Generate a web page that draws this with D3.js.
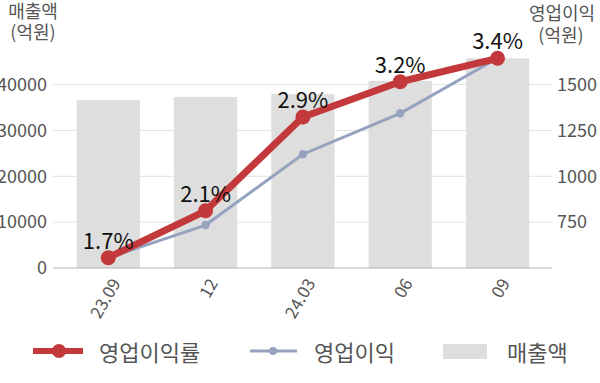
<!DOCTYPE html>
<html><head><meta charset="utf-8">
<script src="https://cdn.jsdelivr.net/npm/d3@7"></script>
<style>
html,body{margin:0;padding:0;background:#fff;}
svg{display:block;font-family:"Noto Sans CJK KR","Noto Sans",sans-serif;}
</style></head>
<body><svg id="c" width="600" height="383"></svg>
<script>
const categories = ["23.09", "12", "24.03", "06", "09"];
const sales = [36600, 37300, 37900, 40800, 45700];          // 매출액 (억원)
const operatingProfit = [556, 734, 1120, 1343, 1643];        // 영업이익 (억원)
const marginPct = [1.7, 2.1, 2.9, 3.2, 3.4];                 // 영업이익률 (%)
const leftTicks = [0, 10000, 20000, 30000, 40000];
const rightTicks = [750, 1000, 1250, 1500];
const seriesNames = ["영업이익률", "영업이익", "매출액"];

const svg = d3.select("#c");
const x = d3.scaleBand().domain(categories).range([59.6, 546.2]).paddingInner(0.35).paddingOuter(0.175);
const yL = d3.scaleLinear().domain([0, 40000]).range([268, 84.5]);
const yR = d3.scaleLinear().domain([500, 1500]).range([268, 84.5]);
const yP = d3.scaleLinear().domain([1.7, 3.4]).range([257.7, 58.3]);

const red = "#c3393b", blue = "#95a3bf", barC = "#dedede", grid = "#e2e2e2", tickC = "#555";

// gridlines
svg.append("g").selectAll("line").data(leftTicks.slice(1)).join("line")
  .attr("x1", 53).attr("x2", 552).attr("y1", d => yL(d)).attr("y2", d => yL(d))
  .attr("stroke", grid).attr("stroke-width", 1);

// bars
svg.append("g").selectAll("rect").data(sales).join("rect")
  .attr("x", (d, i) => x(categories[i])).attr("width", x.bandwidth())
  .attr("y", d => yL(d)).attr("height", d => yL(0) - yL(d)).attr("fill", barC);

// baseline
svg.append("line").attr("x1", 53).attr("x2", 552).attr("y1", yL(0)).attr("y2", yL(0))
  .attr("stroke", "#b4b4b4").attr("stroke-width", 1.2);

// left ticks
svg.append("g").selectAll("text").data(leftTicks).join("text")
  .attr("x", 47).attr("y", d => yL(d)).attr("dy", "0.35em").attr("text-anchor", "end")
  .attr("font-size", 18).attr("fill", tickC).text(d => d);
// right ticks
svg.append("g").selectAll("text").data(rightTicks).join("text")
  .attr("x", 557).attr("y", d => yR(d)).attr("dy", "0.35em").attr("text-anchor", "start")
  .attr("font-size", 18).attr("fill", tickC).text(d => d);

// axis titles
const lt = svg.append("text").attr("text-anchor", "middle").attr("font-size", 18).attr("fill", tickC);
lt.append("tspan").attr("x", 33).attr("y", 18).text("매출액");
lt.append("tspan").attr("x", 33).attr("y", 39).text("(억원)");
const rt = svg.append("text").attr("text-anchor", "middle").attr("font-size", 18).attr("fill", tickC);
rt.append("tspan").attr("x", 562).attr("y", 20).text("영업이익");
rt.append("tspan").attr("x", 561).attr("y", 42).text("(억원)");

// x labels
svg.append("g").selectAll("text").data(categories).join("text")
  .attr("text-anchor", "end").attr("font-size", 17).attr("fill", tickC)
  .attr("transform", d => `translate(${x(d) + x.bandwidth() / 2 + 13},283) rotate(-60)`)
  .text(d => d);

const cx = (d, i) => x(categories[i]) + x.bandwidth() / 2;

// operating profit line
svg.append("path").datum(operatingProfit)
  .attr("d", d3.line().x(cx).y(d => yR(d)))
  .attr("fill", "none").attr("stroke", blue).attr("stroke-width", 3);
svg.append("g").selectAll("circle").data(operatingProfit).join("circle")
  .attr("cx", cx).attr("cy", d => yR(d)).attr("r", 4.2).attr("fill", blue);

// margin line
svg.append("path").datum(marginPct)
  .attr("d", d3.line().x(cx).y(d => yP(d)))
  .attr("fill", "none").attr("stroke", red).attr("stroke-width", 7).attr("stroke-linejoin", "round");
svg.append("g").selectAll("circle").data(marginPct).join("circle")
  .attr("cx", cx).attr("cy", d => yP(d)).attr("r", 7.5).attr("fill", red);

// labels
svg.append("g").selectAll("text").data(marginPct).join("text")
  .attr("x", cx).attr("y", d => yP(d) - 9).attr("text-anchor", "middle")
  .attr("font-size", 22).attr("fill", "#111").text(d => d.toFixed(1) + "%");

// legend
const lg = svg.append("g");
lg.append("line").attr("x1", 33).attr("x2", 83).attr("y1", 351).attr("y2", 351).attr("stroke", red).attr("stroke-width", 6);
lg.append("circle").attr("cx", 59).attr("cy", 351).attr("r", 7).attr("fill", red);
lg.append("text").attr("x", 99).attr("y", 353).attr("dy", "0.35em").attr("font-size", 22).attr("fill", tickC).text(seriesNames[0]);
lg.append("line").attr("x1", 250).attr("x2", 297).attr("y1", 351).attr("y2", 351).attr("stroke", blue).attr("stroke-width", 3);
lg.append("circle").attr("cx", 273).attr("cy", 351).attr("r", 4).attr("fill", blue);
lg.append("text").attr("x", 314).attr("y", 353).attr("dy", "0.35em").attr("font-size", 22).attr("fill", tickC).text(seriesNames[1]);
lg.append("rect").attr("x", 443).attr("y", 344).attr("width", 44).attr("height", 15).attr("fill", barC);
lg.append("text").attr("x", 507).attr("y", 353).attr("dy", "0.35em").attr("font-size", 22).attr("fill", tickC).text(seriesNames[2]);
</script></body></html>
